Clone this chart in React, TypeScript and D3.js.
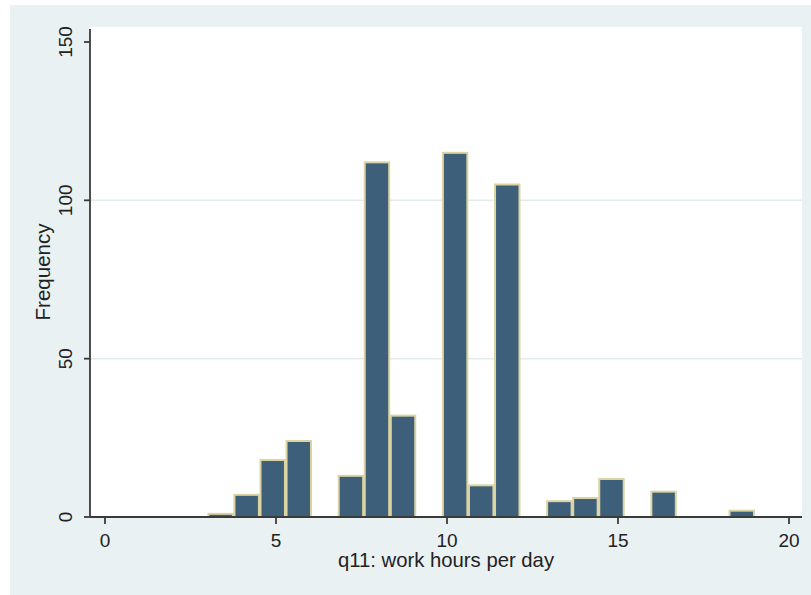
import React from "react";
import * as d3 from "d3";

// Histogram of q11: work hours per day (21 bins from 3 to 19)
const binStart = 3;
const binEnd = 19;
const frequencies = [1, 7, 18, 24, 0, 13, 112, 32, 0, 115, 10, 105, 0, 5, 6, 12, 0, 8, 0, 0, 2];
const xTicks = [0, 5, 10, 15, 20];
const yTicks = [0, 50, 100, 150];
const gridValues = [50, 100];
const xTitle = "q11: work hours per day";
const yTitle = "Frequency";

const W = 811;
const H = 595;

export default function App() {
  const x = d3.scaleLinear().domain([0, 20]).range([105, 789]);
  const y = d3.scaleLinear().domain([0, 150]).range([517, 42]);
  const binW = (binEnd - binStart) / frequencies.length;
  const plotLeft = 90;
  const plotRight = 802;
  const plotTop = 27;
  const plotBottom = y(0);
  const font = "'Liberation Sans', Arial, sans-serif";

  return (
    <svg
      width={W}
      height={H}
      style={{ position: "absolute", left: 0, top: 0, background: "#ffffff" }}
    >
      <rect x={10} y={5} width={W - 10} height={H - 5} fill="#e9f1f3" />
      <rect
        x={plotLeft}
        y={plotTop}
        width={plotRight - plotLeft}
        height={plotBottom - plotTop}
        fill="#ffffff"
      />
      {gridValues.map((v) => (
        <line
          key={"g" + v}
          x1={plotLeft}
          x2={plotRight}
          y1={y(v)}
          y2={y(v)}
          stroke="#e3ebef"
          strokeWidth={1.5}
        />
      ))}
      {frequencies.map((f, i) => {
        if (f <= 0) return null;
        const x0 = x(binStart + i * binW);
        const x1 = x(binStart + (i + 1) * binW);
        return (
          <rect
            key={"b" + i}
            x={x0 + 0.8}
            y={y(f)}
            width={x1 - x0 - 1.6}
            height={plotBottom - y(f)}
            fill="#3d5f7a"
            stroke="#dbd4a2"
            strokeWidth={2}
          />
        );
      })}
      {/* axes */}
      <line x1={plotLeft} x2={plotLeft} y1={29} y2={plotBottom} stroke="#3a3a3a" strokeWidth={1.8} />
      <line x1={plotLeft} x2={plotRight} y1={plotBottom} y2={plotBottom} stroke="#3a3a3a" strokeWidth={1.8} />
      {yTicks.map((v) => (
        <g key={"yt" + v}>
          <line x1={84} x2={plotLeft} y1={y(v)} y2={y(v)} stroke="#3a3a3a" strokeWidth={1.8} />
          <text
            transform={`translate(72,${y(v)}) rotate(-90)`}
            textAnchor="middle"
            fontFamily={font}
            fontSize={19}
            fill="#222"
          >
            {v}
          </text>
        </g>
      ))}
      {xTicks.map((v) => (
        <g key={"xt" + v}>
          <line x1={x(v)} x2={x(v)} y1={plotBottom} y2={524} stroke="#3a3a3a" strokeWidth={1.8} />
          <text
            x={x(v)}
            y={547}
            textAnchor="middle"
            fontFamily={font}
            fontSize={19}
            fill="#222"
          >
            {v}
          </text>
        </g>
      ))}
      <text
        x={(plotLeft + plotRight) / 2}
        y={567}
        textAnchor="middle"
        fontFamily={font}
        fontSize={20.3}
        fill="#222"
      >
        {xTitle}
      </text>
      <text
        transform={`translate(50,${(plotTop + plotBottom) / 2}) rotate(-90)`}
        textAnchor="middle"
        fontFamily={font}
        fontSize={20.5}
        fill="#222"
      >
        {yTitle}
      </text>
    </svg>
  );
}
